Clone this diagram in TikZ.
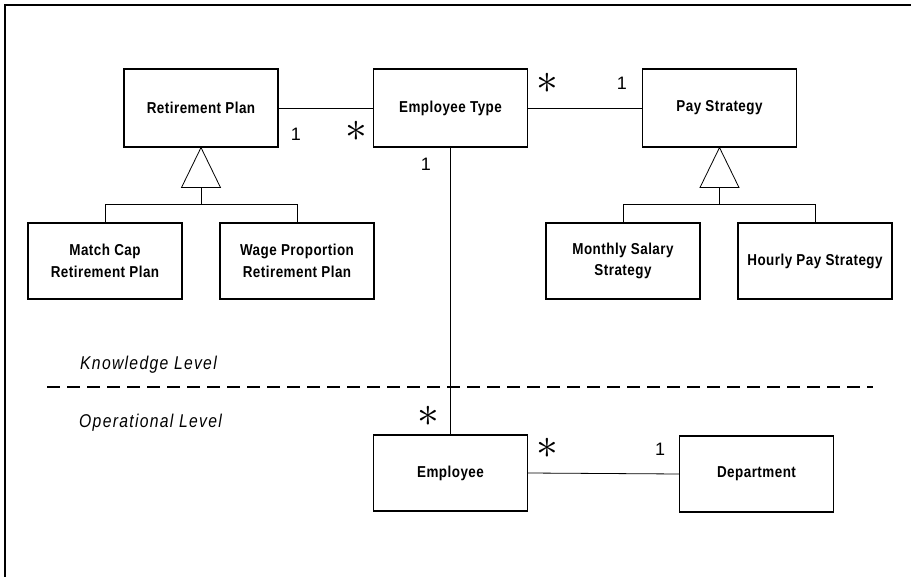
\documentclass[tikz,border=0pt]{standalone}
\usepackage{fontspec}
\setmainfont{Liberation Sans}
\newfontfamily\classfont[FakeStretch=0.85,LetterSpace=3]{Liberation Sans}
\newfontfamily\levelfont[FakeStretch=0.85,LetterSpace=7]{Liberation Sans}
\newcommand\manymark{\scalebox{1.75}{$\ast$}}
\usetikzlibrary{calc}
\begin{document}
\begin{tikzpicture}[x=1pt,y=-1pt,
  classbox/.style={draw, line width=1.1pt, inner sep=0pt, align=center,
    minimum width=154pt, minimum height=#1,
    font=\classfont\bfseries\fontsize{15.8}{21.5}\selectfont},
  classbox/.default=78pt,
  link/.style={line width=0.8pt},
  gen/.style={line width=0.8pt},
  mult/.style={inner sep=0pt, font=\fontsize{18}{18}\selectfont},
  many/.style={inner sep=0pt, font=\fontsize{24.88}{24.88}\selectfont},
  level/.style={inner sep=0pt, anchor=base west, font=\levelfont\itshape\fontsize{18.5}{18.5}\selectfont}]

% page area and frame
\useasboundingbox (0,0) rectangle (911,577);
\draw[line width=2pt] (911,5) -- (5,5) -- (5,577);

% knowledge level classes
\node[classbox] (rp) at (201,108) {Retirement Plan};
\node[classbox] (et) at (450.5,108) {Employee Type};
\node[classbox] (ps) at (719.5,108) {Pay Strategy};

\node[classbox=76pt] (mc) at (105,261) {Match Cap\\Retirement Plan};
\node[classbox=76pt] (wp) at (297,261) {Wage Proportion\\Retirement Plan};
\node[classbox=76pt] (ms) at (623,261) {Monthly Salary\\Strategy};
\node[classbox=76pt] (hp) at (815,261) {Hourly Pay Strategy};

% operational level classes
\node[classbox=76pt] (emp) at (450.5,473) {Employee};
\node[classbox=76pt] (dep) at (756.5,474) {Department};

% associations
\draw[link] (rp.east) -- (et.west);
\draw[link] (et.east) -- (ps.west);
\draw[link] (et.south) -- (emp.north);
\draw[link] (emp.east) -- (dep.west);

% generalisation: Retirement Plan
\draw[gen] (rp.south) -- ++(-19.5,40) -- ++(39,0) -- cycle;
\coordinate (rpj) at ($(rp.south)+(0,57)$);
\draw[gen] ($(rp.south)+(0,40)$) -- (rpj);
\draw[gen] (rpj) -| (mc.north);
\draw[gen] (rpj) -| (wp.north);

% generalisation: Pay Strategy
\draw[gen] (ps.south) -- ++(-19.5,40) -- ++(39,0) -- cycle;
\coordinate (psj) at ($(ps.south)+(0,57)$);
\draw[gen] ($(ps.south)+(0,40)$) -- (psj);
\draw[gen] (psj) -| (ms.north);
\draw[gen] (psj) -| (hp.north);

% multiplicities
\node[mult] (m1) at (296,134) {1};
\node[many] (m2) at (356,131) {\manymark};
\node[mult] (m3) at (426,164) {1};
\node[many] (m4) at (547,83) {\manymark};
\node[mult] (m5) at (622,83) {1};
\node[many] (m6) at (428,416) {\manymark};
\node[many] (m7) at (547,448) {\manymark};
\node[mult] (m8) at (660,449) {1};

% level boundary
\draw[line width=1.2pt, dash pattern=on 13pt off 7pt] (47,387) -- (873,387);
\node[level] (kl) at (80,370) {Knowledge Level};
\node[level] (ol) at (79,428) {Operational Level};
\end{tikzpicture}
\end{document}
